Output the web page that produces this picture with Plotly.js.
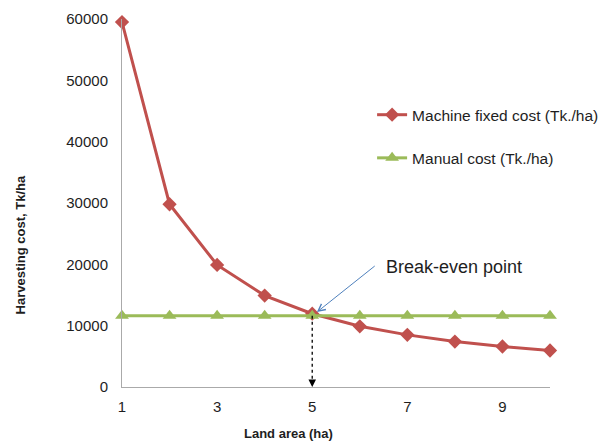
<!DOCTYPE html>
<html>
<head>
<meta charset="utf-8">
<script src="https://cdn.plot.ly/plotly-3.0.1.min.js"></script>
<style>html,body{margin:0;padding:0;background:#fff}#chart{width:612px;height:442px}</style>
</head>
<body>
<div id="chart"></div>
<script>
const landArea = [1, 2, 3, 4, 5, 6, 7, 8, 9, 10];
const machineFixedCost = [59500, 29800, 19900, 14900, 11950, 9900, 8500, 7400, 6600, 5950];
const manualCost = [11600, 11600, 11600, 11600, 11600, 11600, 11600, 11600, 11600, 11600];
const seriesNames = ['Machine fixed cost (Tk./ha)', 'Manual cost (Tk./ha)'];
const breakEvenX = 5;
const breakEvenY = 11600;
const breakEvenLabel = 'Break-even point';
const xTitle = 'Land area (ha)';
const yTitle = 'Harvesting cost, Tk/ha';

const font = 'Liberation Sans, Arial, sans-serif';
const txt = '#1e1e1e';

const traces = [
  {
    x: landArea, y: machineFixedCost, name: seriesNames[0], type: 'scatter', mode: 'lines+markers',
    line: {color: '#c0504d', width: 3}, marker: {symbol: 'diamond', size: 11, color: '#c0504d'},
    cliponaxis: false, legendgroup: 'a'
  },
  {
    x: landArea, y: manualCost, name: seriesNames[1], type: 'scatter', mode: 'lines+markers',
    line: {color: '#9bbb59', width: 3}, marker: {symbol: 'triangle-up', size: 12, color: '#9bbb59'},
    cliponaxis: false, legendgroup: 'b'
  }
];

const layout = {
  width: 612, height: 442,
  margin: {l: 122, r: 62, t: 19, b: 55, autoexpand: false},
  paper_bgcolor: '#fff', plot_bgcolor: '#fff',
  font: {family: font, size: 15, color: txt},
  xaxis: {
    range: [1, 10], tickvals: [1, 3, 5, 7, 9], showgrid: false, zeroline: false,
    showline: true, linecolor: '#aaa', linewidth: 1, automargin: false,
    ticks: '', ticklabelstandoff: 6, tickfont: {size: 15, color: txt}
  },
  yaxis: {
    range: [0, 60000], dtick: 10000, showgrid: false, zeroline: false,
    showline: true, linecolor: '#aaa', linewidth: 1, automargin: false,
    ticks: '', ticklabelstandoff: 10, tickformat: 'd', tickfont: {size: 15, color: txt}
  },
  showlegend: true,
  legend: {
    xref: 'container', yref: 'container',
    x: 0.608, y: 0.778, xanchor: 'left', yanchor: 'top',
    bgcolor: 'rgba(0,0,0,0)', font: {size: 15.5, color: txt},
    traceorder: 'grouped', tracegroupgap: 20
  },
  shapes: [
    {type: 'line', xref: 'x', yref: 'y', x0: breakEvenX, x1: breakEvenX, y0: breakEvenY, y1: 600,
     line: {color: '#000', width: 1.3, dash: 'dot'}}
  ],
  annotations: [
    {x: breakEvenX, y: 0, xref: 'x', yref: 'y', text: '', showarrow: true,
     ax: 0, ay: -8, arrowhead: 2, arrowsize: 1, arrowwidth: 1.5, arrowcolor: '#000'},
    {x: breakEvenX, y: breakEvenY, xref: 'x', yref: 'y', text: '', showarrow: true,
     ax: 64, ay: -51, arrowhead: 5, arrowsize: 1.4, arrowwidth: 1, arrowcolor: '#4f81bd', standoff: 6},
    {x: 6.5, y: 19600, xref: 'x', yref: 'y', text: breakEvenLabel, showarrow: false,
     xanchor: 'left', yanchor: 'middle', font: {size: 18, color: txt}},
    {x: -0.238, y: 0.385, xref: 'paper', yref: 'paper', text: '<b>' + yTitle + '</b>', showarrow: false,
     textangle: -90, xanchor: 'center', yanchor: 'middle', font: {size: 13, color: txt}},
    {x: 0.388, y: -0.125, xref: 'paper', yref: 'paper', text: '<b>' + xTitle + '</b>', showarrow: false,
     xanchor: 'center', yanchor: 'middle', font: {size: 13, color: txt}}
  ]
};

Plotly.newPlot('chart', traces, layout, {displayModeBar: false, staticPlot: true});
</script>
</body>
</html>
